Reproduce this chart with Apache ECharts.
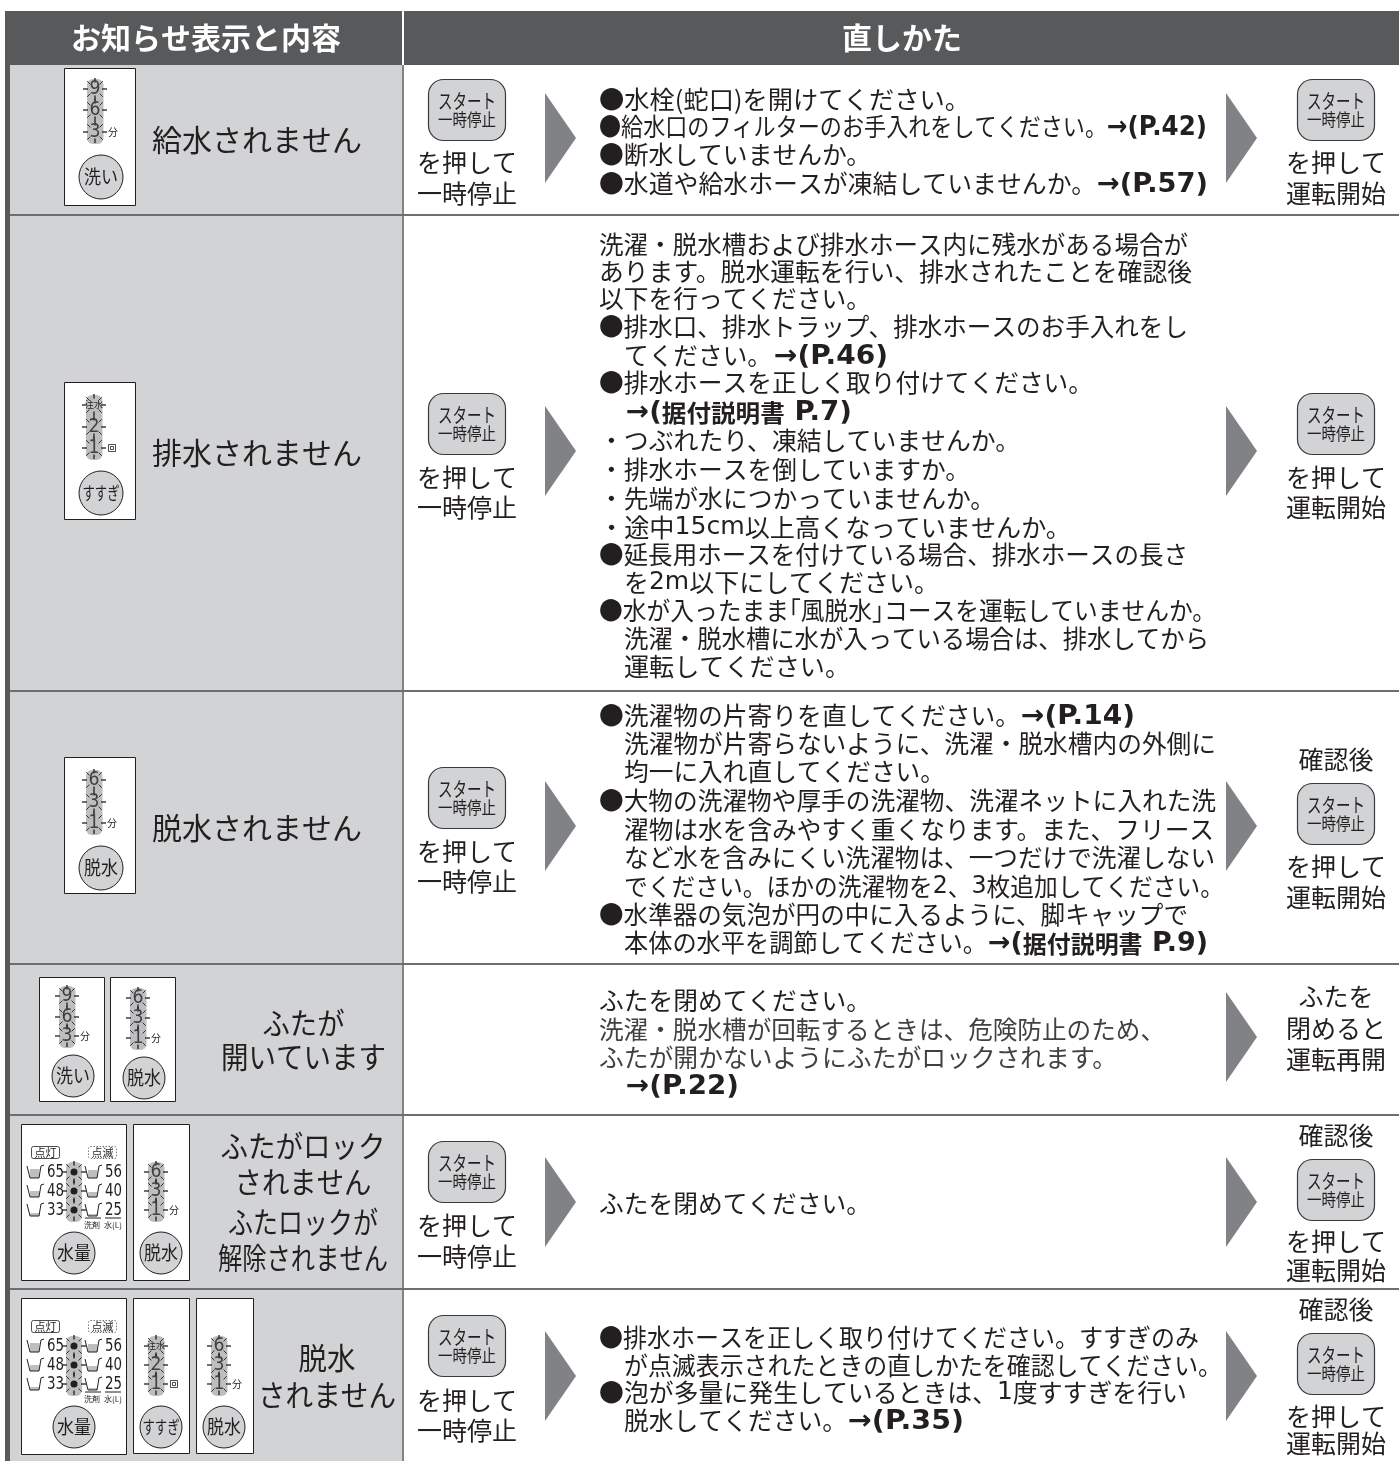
<!DOCTYPE html>
<html>
<head>
<meta charset="utf-8">
<title>お知らせ表示と内容</title>
<style>
html, body { margin: 0; padding: 0; background: #fff; }
#chart { width: 1399px; height: 1461px; }
</style>
<script src="https://cdn.jsdelivr.net/npm/echarts@6/dist/echarts.min.js"></script>
</head>
<body>
<div id="chart"></div>
<script>
// table text
var headers = ['お知らせ表示と内容', '直しかた'];
var rowTitle1 = ['給水されません'];
var rowTitle2 = ['排水されません'];
var rowTitle3 = ['脱水されません'];
var rowTitle4 = ['ふたが', '開いています'];
var rowTitle5 = ['ふたがロック', 'されません', 'ふたロックが', '解除されません'];
var rowTitle6 = ['脱水', 'されません'];

var fix1 = [
    '●水栓(蛇口)を開けてください。',
    '●給水口のフィルターのお手入れをしてください。{b|→(P.42)}',
    '●断水していませんか。',
    '●水道や給水ホースが凍結していませんか。{b|→(P.57)}'
];
var fix2 = [
    '洗濯・脱水槽および排水ホース内に残水がある場合が',
    'あります。脱水運転を行い、排水されたことを確認後',
    '以下を行ってください。',
    '●排水口、排水トラップ、排水ホースのお手入れをし',
    'てください。{b|→(P.46)}',
    '●排水ホースを正しく取り付けてください。',
    '{b|→(}{c|据付説明書}{b| P.7)}',
    '・つぶれたり、凍結していませんか。',
    '・排水ホースを倒していますか。',
    '・先端が水につかっていませんか。',
    '・途中{l|15cm}以上高くなっていませんか。',
    '●延長用ホースを付けている場合、排水ホースの長さ',
    'を{l|2m}以下にしてください。',
    '●水が入ったまま｢風脱水｣コースを運転していませんか。',
    '洗濯・脱水槽に水が入っている場合は、排水してから',
    '運転してください。'
];
var fix3 = [
    '●洗濯物の片寄りを直してください。{b|→(P.14)}',
    '洗濯物が片寄らないように、洗濯・脱水槽内の外側に',
    '均一に入れ直してください。',
    '●大物の洗濯物や厚手の洗濯物、洗濯ネットに入れた洗',
    '濯物は水を含みやすく重くなります。また、フリース',
    'など水を含みにくい洗濯物は、一つだけで洗濯しない',
    'でください。ほかの洗濯物を{l|2}、{l|3}枚追加してください。',
    '●水準器の気泡が円の中に入るように、脚キャップで',
    '本体の水平を調節してください。{b|→(}{c|据付説明書}{b| P.9)}'
];
var fix4 = [
    'ふたを閉めてください。',
    '洗濯・脱水槽が回転するときは、危険防止のため、',
    'ふたが開かないようにふたがロックされます。',
    '{b|→(P.22)}'
];
var fix5 = ['ふたを閉めてください。'];
var fix6 = [
    '●排水ホースを正しく取り付けてください。すすぎのみ',
    'が点滅表示されたときの直しかたを確認してください。',
    '●泡が多量に発生しているときは、{l|1}度すすぎを行い',
    '脱水してください。{b|→(P.35)}'
];

var startLabel = ['スタート', '一時停止'];
var pressPause = ['を押して', '一時停止'];
var pressRun = ['を押して', '運転開始'];
var afterCheck = '確認後';
var closeRun = ['ふたを', '閉めると', '運転再開'];

var washLabels = ['9', '6', '3'];
var spinLabels = ['6', '3', '1'];
var rinseLabels = ['注水', '2', '1'];
var litLabel = '点灯';
var blinkLabel = '点滅';
var waterLeft = ['65', '48', '33'];
var waterRight = ['56', '40', '25'];
var detergentLabel = '洗剤';
var waterLabel = '水(L)';

// colours and fonts
var INK = '#231f20';
var SOFT = '#414042';
var DARK = '#58595b';
var CELL = '#d1d3d4';
var RULE = '#6d6e71';
var ARROW = '#808285';
var JP = '"Noto Sans CJK JP", sans-serif';
var LATIN = '"DejaVu Sans", "Noto Sans CJK JP", sans-serif';

var els = [];

function rect(x, y, w, h, fill, stroke, r, lw) {
    els.push({
        type: 'rect', silent: true,
        shape: { x: x, y: y, width: w, height: h, r: r || 0 },
        style: { fill: fill, stroke: stroke || null, lineWidth: lw || 1 }
    });
}

function line(x1, y1, x2, y2, color, lw) {
    els.push({
        type: 'line', silent: true,
        shape: { x1: x1, y1: y1, x2: x2, y2: y2 },
        style: { stroke: color || INK, lineWidth: lw || 1 }
    });
}

function poly(points, fill, stroke) {
    els.push({
        type: stroke ? 'polyline' : 'polygon', silent: true,
        shape: { points: points },
        style: stroke ? { stroke: stroke, fill: null, lineWidth: 1 } : { fill: fill }
    });
}

// push a text element, squeezed horizontally when a target width is given
function pushText(style, width) {
    var el = { type: 'text', silent: true, style: style };
    if (width) {
        var measured = new echarts.graphic.Text({ style: style }).getBoundingRect().width;
        if (measured > 0) {
            el.scaleX = width / measured;
            el.originX = style.x;
            el.originY = style.y;
        }
    }
    els.push(el);
}

function label(str, x, y, size, align, opts) {
    opts = opts || {};
    pushText({
        text: str, x: x, y: y,
        fontSize: size,
        fontFamily: opts.family || JP,
        fontWeight: opts.weight || 'normal',
        fill: opts.fill || INK,
        align: align || 'left',
        verticalAlign: 'middle'
    }, opts.width);
}

function bodyStyle(str, x, y, fill) {
    return {
        text: str, x: x, y: y,
        fontSize: 25,
        fontFamily: JP,
        fill: fill,
        align: 'left',
        verticalAlign: 'middle',
        rich: {
            d: { fontFamily: JP, fontSize: 25, fill: fill },
            b: { fontFamily: LATIN, fontWeight: 'bold', fontSize: 27, fill: fill },
            c: { fontFamily: JP, fontWeight: 'bold', fontSize: 24, fill: fill },
            l: { fontFamily: LATIN, fontSize: 25, fill: fill }
        }
    };
}

// one body line: the plain part runs x..right, a page reference runs refX..refRight
function bodyLine(str, x, y, right, refX, refRight, fill) {
    fill = fill || INK;
    var cut = str.indexOf('{b|→');
    var head = cut >= 0 ? str.slice(0, cut) : str;
    var tail = cut >= 0 ? str.slice(cut) : '';
    if (head) {
        pushText(bodyStyle(head.replace(/^●/, '{d|●}'), x, y, fill), right - x);
    }
    if (tail) {
        pushText(bodyStyle(tail, refX, y + 1.5, fill), refRight - refX);
    }
}

function startButton(x, y) {
    rect(x + 0.5, y + 0.5, 77, 61, CELL, '#3a3a3c', 15, 1.2);
    label(startLabel[0], x + 39, y + 22, 20, 'center', { width: 58 });
    label(startLabel[1], x + 39, y + 41, 17, 'center', { width: 58 });
}

function arrow(x, cy) {
    poly([[x, cy - 45], [x + 31, cy], [x, cy + 45]], ARROW);
}

function panel(x, y, w, h) {
    rect(x + 0.5, y + 0.5, w, h, '#fff', INK, 0, 1);
}

function roundKey(cx, cy, r, str) {
    els.push({
        type: 'circle', silent: true,
        shape: { cx: cx, cy: cy, r: r },
        style: { fill: CELL, stroke: INK, lineWidth: 1 }
    });
    label(str, cx, cy, str.length > 2 ? 18 : 19, 'center', { width: str.length > 2 ? 37 : 34 });
}

function rays(cx, y) {
    var i, a;
    line(cx - 12, y, cx - 7, y, INK, 1.3);
    line(cx + 7, y, cx + 12, y, INK, 1.3);
    line(cx, y - 11, cx, y - 6.5, INK, 1.3);
    line(cx, y + 6.5, cx, y + 11, INK, 1.3);
    for (i = 0; i < 4; i++) {
        a = Math.PI / 4 + i * Math.PI / 2;
        line(cx + Math.cos(a) * 6.5, y + Math.sin(a) * 6.5, cx + Math.cos(a) * 11, y + Math.sin(a) * 11, INK, 0.9);
    }
}

// blinking time display: grey strip, number, sun rays, unit
function led(cx, ys, labels, unit) {
    rect(cx - 8, ys[0] - 10, 16.5, ys[2] - ys[0] + 22, '#bcbec0', null, 6);
    for (var i = 0; i < 3; i++) {
        rays(cx, ys[i]);
        if (labels[i].length > 1) {
            label(labels[i], cx, ys[i], 9, 'center');
        } else {
            label(labels[i], cx, ys[i], 20, 'center', { family: LATIN, fill: SOFT, width: 11 });
        }
    }
    if (unit === '回') {
        rect(cx + 14.5, ys[2] - 3.5, 7, 7, '#fff', INK, 0, 0.8);
        rect(cx + 16.5, ys[2] - 1.5, 3, 3, '#fff', INK, 0, 0.8);
    } else {
        label(unit, cx + 18, ys[2], 10, 'center');
    }
}

function bucket(x, y, level) {
    // level is the water height in px inside the cup
    var b = y + 6, t = y - 6;
    if (level) {
        poly([[x + 3 - level * 0.12 + 0.8, b - level], [x + 12.5, b - level], [x + 12, b], [x + 3, b]], '#bcbec0');
    }
    poly([[x, t], [x + 3, b], [x + 12, b], [x + 14, t], [x + 17, t - 1]], null, INK);
}

// panel of the water volume key
function waterPanel(dy) {
    var ys = [1172 + dy, 1191 + dy, 1210 + dy];
    var i;
    panel(21, 1124 + dy, 105, 156);
    rect(31.5, 1146.5 + dy, 28, 12, '#fff', INK, 2, 0.8);
    label(litLabel, 45.5, 1152.5 + dy, 11, 'center');
    rect(88.5, 1146.5 + dy, 28, 12, '#fff', '#555', 2, 0.8);
    els[els.length - 1].style.lineDash = [1.5, 1.5];
    label(blinkLabel, 102.5, 1152.5 + dy, 11, 'center');
    rect(66, ys[0] - 10, 16, 60, '#bcbec0', null, 6);
    var levels = [9, 6, 3];
    var levels2 = [8, 5, 2];
    for (i = 0; i < 3; i++) {
        rays(74, ys[i]);
        els.push({
            type: 'circle', silent: true,
            shape: { cx: 74, cy: ys[i], r: 3.5 },
            style: { fill: INK }
        });
        bucket(27, ys[i], levels[i]);
        label(waterLeft[i], 47, ys[i], 18, 'left', { family: LATIN, width: 17 });
        bucket(85, ys[i], levels2[i]);
        label(waterRight[i], 105, ys[i], 18, 'left', { family: LATIN, width: 17 });
    }
    line(85, ys[2] + 8, 101, ys[2] + 8, INK, 1);
    line(105, ys[2] + 8, 121, ys[2] + 8, INK, 1);
    label(detergentLabel, 92, ys[2] + 15, 8, 'center');
    label(waterLabel, 113, ys[2] + 15, 8, 'center');
    roundKey(74, 1253 + dy, 21, '水量');
}

function titleBlock(lines, ys, x, align, size, widths) {
    for (var i = 0; i < lines.length; i++) {
        label(lines[i], x, ys[i], size || 30, align, widths ? { width: widths[i] } : null);
    }
}

// backgrounds and rules
rect(5, 11, 1394, 54, DARK);
rect(5, 65, 5, 1396, DARK);
rect(10, 65, 392, 1396, CELL);
rect(402, 11, 2, 54, '#fff');
rect(402, 65, 2, 1396, '#808285');
var ruleYs = [215, 691, 964, 1115, 1289];
for (var r = 0; r < ruleYs.length; r++) {
    rect(10, ruleYs[r] - 1, 1389, 2, RULE);
}
label(headers[0], 206, 38, 30, 'center', { weight: 'bold', fill: '#fff' });
label(headers[1], 902, 38, 30, 'center', { weight: 'bold', fill: '#fff' });

// row 1
panel(64, 68, 71, 137);
led(95, [89, 110, 132], washLabels, '分');
roundKey(101, 177, 22, '洗い');
titleBlock(rowTitle1, [140], 152, 'left');
startButton(428, 79);
titleBlock(pressPause, [162, 193], 467, 'center', 25);
arrow(545, 138);
bodyLine(fix1[0], 599, 99, 970);
bodyLine(fix1[1], 599, 126, 1107, 1107, 1207);
bodyLine(fix1[2], 599, 154, 871);
bodyLine(fix1[3], 599, 183, 1096, 1097, 1208);
arrow(1226, 138);
startButton(1297, 79);
titleBlock(pressRun, [162, 193], 1336, 'center', 25);

// row 2
panel(64, 382, 71, 137);
led(94, [405, 427, 448], rinseLabels, '回');
roundKey(101, 493, 22, 'すすぎ');
titleBlock(rowTitle2, [453], 152, 'left');
startButton(428, 393);
titleBlock(pressPause, [477, 507], 467, 'center', 25);
arrow(545, 451);
bodyLine(fix2[0], 599, 244, 1188);
bodyLine(fix2[1], 599, 271, 1192);
bodyLine(fix2[2], 599, 298, 871);
bodyLine(fix2[3], 599, 326, 1188);
bodyLine(fix2[4], 624, 355, 772, 774, 888);
bodyLine(fix2[5], 599, 382, 1093);
bodyLine(fix2[6], 624, 411, 624, 626, 852);
bodyLine(fix2[7], 599, 440, 1020);
bodyLine(fix2[8], 599, 469, 970);
bodyLine(fix2[9], 599, 498, 995);
bodyLine(fix2[10], 599, 527, 1071);
bodyLine(fix2[11], 599, 554, 1188);
bodyLine(fix2[12], 624, 582, 939);
bodyLine(fix2[13], 599, 610, 1216);
bodyLine(fix2[14], 624, 638, 1209);
bodyLine(fix2[15], 624, 666, 850);
arrow(1226, 451);
startButton(1297, 393);
titleBlock(pressRun, [477, 507], 1336, 'center', 25);

// row 3
panel(64, 757, 71, 136);
led(94, [780, 802, 823], spinLabels, '分');
roundKey(101, 868, 22, '脱水');
titleBlock(rowTitle3, [828], 152, 'left');
startButton(428, 767);
titleBlock(pressPause, [851, 881], 467, 'center', 25);
arrow(545, 826);
bodyLine(fix3[0], 599, 715, 1020, 1021, 1135);
bodyLine(fix3[1], 624, 743, 1216);
bodyLine(fix3[2], 624, 771, 945);
bodyLine(fix3[3], 599, 800, 1216);
bodyLine(fix3[4], 624, 829, 1214);
bodyLine(fix3[5], 624, 857, 1215);
bodyLine(fix3[6], 624, 886, 1224);
bodyLine(fix3[7], 599, 914, 1188);
bodyLine(fix3[8], 624, 942, 987, 988, 1208);
arrow(1226, 826);
label(afterCheck, 1336, 759, 25, 'center');
startButton(1297, 783);
titleBlock(pressRun, [866, 897], 1336, 'center', 25);

// row 4
panel(39, 977, 65, 124);
led(67, [996, 1017, 1036], washLabels, '分');
roundKey(73, 1076, 21, '洗い');
panel(110, 977, 65, 124);
led(138, [998, 1018, 1038], spinLabels, '分');
roundKey(144, 1078, 21, '脱水');
titleBlock(rowTitle4, [1023, 1057], 303.5, 'center', 30, [82, 165]);
bodyLine(fix4[0], 599, 1000, 871);
bodyLine(fix4[1], 599, 1029, 1165, 0, 0, SOFT);
bodyLine(fix4[2], 599, 1057, 1117, 0, 0, SOFT);
bodyLine(fix4[3], 624, 1085, 624, 626, 739);
arrow(1226, 1037);
titleBlock(closeRun, [996, 1028, 1059], 1336, 'center', 25);

// row 5
waterPanel(0);
panel(133, 1124, 56, 156);
led(156, [1172, 1191, 1210], spinLabels, '分');
roundKey(161, 1253, 21, '脱水');
titleBlock(rowTitle5, [1146, 1182, 1222, 1258], 303, 'center', 30, [165, 137, 150, 170]);
startButton(428, 1141);
titleBlock(pressPause, [1225, 1256], 467, 'center', 25);
arrow(545, 1202);
bodyLine(fix5[0], 599, 1203, 871);
arrow(1226, 1202);
label(afterCheck, 1336, 1135, 25, 'center');
startButton(1297, 1159);
titleBlock(pressRun, [1241, 1270], 1336, 'center', 25);

// row 6
waterPanel(174);
panel(133, 1298, 56, 155);
led(156, [1346, 1365, 1384], rinseLabels, '回');
roundKey(161, 1427, 21, 'すすぎ');
panel(196, 1298, 57, 155);
led(219, [1346, 1365, 1384], spinLabels, '分');
roundKey(224, 1427, 21, '脱水');
titleBlock(rowTitle6, [1358, 1395], 327, 'center', 30, [57, 138]);
startButton(428, 1315);
titleBlock(pressPause, [1400, 1430], 467, 'center', 25);
arrow(545, 1376);
bodyLine(fix6[0], 599, 1337, 1199);
bodyLine(fix6[1], 624, 1365, 1222);
bodyLine(fix6[2], 599, 1392, 1187);
bodyLine(fix6[3], 624, 1420, 847, 848, 964);
arrow(1226, 1376);
label(afterCheck, 1336, 1309, 25, 'center');
startButton(1297, 1333);
titleBlock(pressRun, [1416, 1443], 1336, 'center', 25);

var chart = echarts.init(document.getElementById('chart'), null, { renderer: 'canvas' });
chart.setOption({
    animation: false,
    backgroundColor: '#fff',
    graphic: { elements: els }
});
</script>
</body>
</html>
